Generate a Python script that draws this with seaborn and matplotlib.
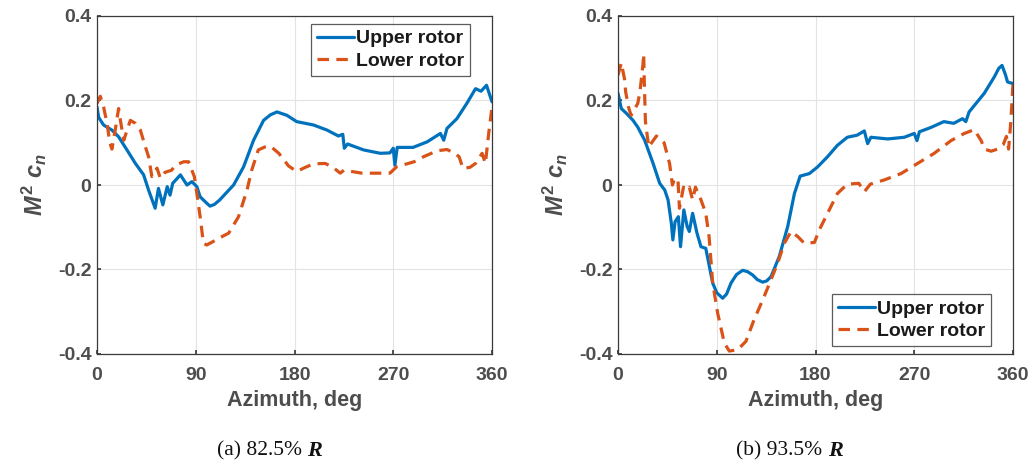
import pandas as pd
import seaborn as sns
import matplotlib.pyplot as plt

# (a) 82.5% R
a_up_az = [0, 1.5, 6, 13.6, 19.7, 27.3, 35, 42.5, 47, 53, 56, 60, 64, 66.6, 69, 76, 82, 86.5,
           91, 94, 100, 103, 107, 112, 118, 124.5, 133.6, 142.7, 151.8, 158, 164, 173, 182,
           197.4, 209.6, 220, 224, 225.4, 228.4, 243, 258.2, 267, 270, 271.5, 273.6, 288,
           300.8, 313, 316, 319, 328, 337, 345, 350, 355, 360]
a_up_cn = [0.185, 0.16, 0.142, 0.13, 0.114, 0.083, 0.051, 0.024, -0.012, -0.055, -0.008,
           -0.047, -0.004, -0.024, 0.004, 0.024, 0.0, 0.008, -0.004, -0.028, -0.043, -0.050,
           -0.046, -0.035, -0.018, 0.0, 0.043, 0.106, 0.153, 0.166, 0.173, 0.165, 0.150,
           0.142, 0.130, 0.116, 0.12, 0.087, 0.097, 0.083, 0.075, 0.076, 0.087, 0.047, 0.089,
           0.089, 0.102, 0.122, 0.106, 0.134, 0.157, 0.193, 0.228, 0.222, 0.236, 0.197]
a_lo_az = [0, 3, 6, 7.5, 9, 11.5, 13.6, 16.6, 19.7, 21, 24.4, 30.4, 35, 39.5, 44, 47, 50,
           54.7, 57.7, 62, 68, 71.5, 79, 83.5, 88.7, 91, 94, 97, 100, 105, 111, 120, 129,
           136.7, 141, 147, 153, 158, 165.7, 174.6, 182, 190, 197.4, 208, 215, 221.7, 225,
           241.5, 252, 267, 273, 289, 297.7, 310, 319, 326, 330, 333.6, 340, 345, 351, 354,
           357, 360]
a_lo_cn = [0.193, 0.21, 0.185, 0.166, 0.15, 0.102, 0.085, 0.13, 0.181, 0.158, 0.106, 0.153,
           0.146, 0.13, 0.091, 0.067, 0.020, 0.04, 0.016, 0.03, 0.035, 0.047, 0.055, 0.055,
           0.02, -0.02, -0.075, -0.138, -0.142, -0.135, -0.126, -0.114, -0.075, -0.012,
           0.035, 0.083, 0.09, 0.092, 0.075, 0.045, 0.032, 0.042, 0.05, 0.051, 0.042, 0.028,
           0.035, 0.028, 0.028, 0.028, 0.043, 0.055, 0.067, 0.081, 0.084, 0.075, 0.067,
           0.039, 0.042, 0.051, 0.075, 0.051, 0.122, 0.185]

# (b) 93.5% R
b_up_az = [0, 3, 7.5, 13.7, 18, 24.3, 32, 38, 42.6, 45.6, 48.6, 50, 52, 55, 57, 60, 63, 65,
           68, 72, 75.6, 80, 86.3, 90, 95.4, 99, 103, 108, 113.6, 118, 122.7, 127, 131.9,
           135.5, 139.5, 147, 154.7, 160.8, 166, 174.4, 182, 191, 200, 209, 218, 224.5,
           227.5, 230.5, 245.8, 261, 270, 272.5, 274.7, 285, 297, 306, 314, 317, 320, 333.8,
           343, 347, 350, 353, 355, 360]
b_up_cn = [0.217, 0.181, 0.17, 0.153, 0.137, 0.106, 0.051, 0.004, -0.012, -0.035, -0.090,
           -0.13, -0.087, -0.075, -0.146, -0.059, -0.098, -0.11, -0.067, -0.114, -0.146,
           -0.15, -0.232, -0.255, -0.268, -0.258, -0.232, -0.212, -0.202, -0.205, -0.213,
           -0.224, -0.230, -0.227, -0.217, -0.169, -0.098, -0.020, 0.021, 0.027, 0.043,
           0.067, 0.094, 0.113, 0.118, 0.128, 0.098, 0.113, 0.109, 0.113, 0.122, 0.105,
           0.126, 0.136, 0.150, 0.146, 0.157, 0.150, 0.173, 0.217, 0.256, 0.276, 0.283,
           0.262, 0.244, 0.240]
b_lo_az = [0, 3, 6, 7, 10, 12, 18, 20, 22.8, 23.4, 24, 25, 28, 35, 42, 47, 49.6, 51.7,
           54.7, 56, 59.7, 62.7, 65, 68, 70.6, 75.6, 80, 83, 86.3, 90.8, 96.9, 101.4, 109,
           116.6, 124, 131.9, 139.5, 145.5, 151.6, 157.7, 163.8, 169.8, 179, 183.5, 191,
           200, 209, 219.5, 224.5, 230, 242.7, 257.9, 273, 288.2, 303.5, 315.6, 324.7, 331,
           334, 340, 346, 351, 354, 356, 358, 360]
b_lo_cn = [0.26, 0.289, 0.25, 0.22, 0.18, 0.165, 0.193, 0.22, 0.287, 0.31, 0.24, 0.15,
           0.09, 0.116, 0.10, 0.051, 0.0, 0.016, 0.01, -0.055, -0.005, -0.012, -0.005,
           -0.035, -0.005, -0.035, -0.067, -0.122, -0.232, -0.303, -0.374, -0.393, -0.39,
           -0.37, -0.319, -0.272, -0.224, -0.185, -0.138, -0.110, -0.122, -0.138, -0.136,
           -0.106, -0.067, -0.020, 0.002, 0.004, -0.016, 0.002, 0.012, 0.027, 0.051, 0.075,
           0.105, 0.122, 0.131, 0.105, 0.085, 0.08, 0.085, 0.095, 0.115, 0.085, 0.15, 0.24]

captions = ['(a) 82.5% ', '(b) 93.5% ']

sns.set_theme(style="white")
plt.rcParams['font.family'] = ['Liberation Sans', 'DejaVu Sans']
plt.rcParams['mathtext.fontset'] = 'custom'
plt.rcParams['mathtext.it'] = 'Liberation Sans:italic:bold'
plt.rcParams['mathtext.rm'] = 'Liberation Sans:bold'
plt.rcParams['mathtext.bf'] = 'Liberation Sans:bold'

txt = '#4d4d4d'
blue, orange = '#0072BD', '#D95319'

fig = plt.figure(figsize=(10.36, 4.65), dpi=100)
lefts = [97 / 1036, 618 / 1036]
leg_spec = [('upper right', (470 / 1036, 1 - 24 / 465)),
            ('lower right', (991 / 1036, 1 - 346 / 465))]
series = [(a_up_az, a_up_cn, a_lo_az, a_lo_cn), (b_up_az, b_up_cn, b_lo_az, b_lo_cn)]

for (uaz, ucn, laz, lcn), left, (loc, anchor), cap in zip(series, lefts, leg_spec, captions):
    ax = fig.add_axes([left, 111 / 465, 395 / 1036, 338 / 465])
    up = pd.DataFrame({'az': uaz, 'cn': ucn})
    lo = pd.DataFrame({'az': laz, 'cn': lcn})
    sns.lineplot(data=up, x='az', y='cn', ax=ax, color=blue, lw=2.3, label='Upper rotor')
    sns.lineplot(data=lo, x='az', y='cn', ax=ax, color=orange, lw=2.3, label='Lower rotor')
    ax.lines[1].set_dashes((3.6, 2.3))
    ax.set_xlim(0, 360)
    ax.set_ylim(-0.4, 0.4)
    ax.set_xticks([0, 90, 180, 270, 360])
    ax.set_yticks([-0.4, -0.2, 0, 0.2, 0.4])
    ax.set_yticklabels(['-0.4', '-0.2', '0', '0.2', '0.4'])
    ax.grid(True, color='#e3e3e3', lw=0.8)
    ax.tick_params(axis='both', labelsize=14, colors='#3a3a3a', length=3, direction='in',
                   bottom=True, left=True)
    ax.tick_params(axis='x', pad=9)
    ax.tick_params(axis='y', pad=4)
    for lab in ax.get_xticklabels() + ax.get_yticklabels():
        lab.set_fontweight('bold')
        lab.set_color(txt)
    for s in ax.spines.values():
        s.set_color('#3a3a3a')
        s.set_linewidth(0.9)
    ax.set_xlabel('Azimuth, deg', fontsize=15.5, fontweight='bold', color=txt, labelpad=5)
    ax.set_ylabel(r'$M^2\ c_n$', fontsize=17, color=txt, labelpad=6)
    leg = ax.legend(loc=loc, bbox_to_anchor=anchor, bbox_transform=fig.transFigure,
                    frameon=True, fancybox=False, handlelength=1.9, borderpad=0.3,
                    labelspacing=0.25, handletextpad=0.1, borderaxespad=0,
                    prop={'weight': 'bold', 'size': 14})
    leg.get_frame().set_edgecolor('#333333')
    leg.get_frame().set_linewidth(0.9)
    for t in leg.get_texts():
        t.set_color('#1a1a1a')

    cx = left + 395 / 1036 / 2
    fig.text(cx + 0.012, 1 - 451 / 465, cap, ha='right', va='center', fontsize=15.5,
             family='Liberation Serif', color='#111111')
    fig.text(cx + 0.012, 1 - 451 / 465, 'R', ha='left', va='center', fontsize=16,
             family='Liberation Serif', style='italic', weight='bold', color='#111111')

fig.savefig('out.png', dpi=100)
